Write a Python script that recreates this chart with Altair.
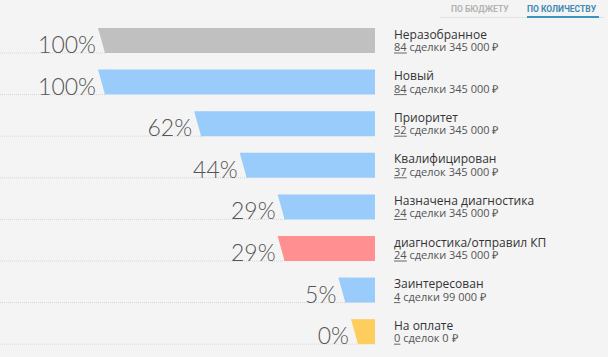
import altair as alt
import pandas as pd

# ---- data ----
stages = ["Неразобранное", "Новый", "Приоритет", "Квалифицирован",
          "Назначена диагностика", "диагностика/отправил КП", "Заинтересован", "На оплате"]
percents = [100, 100, 62, 44, 29, 29, 5, 0]
counts = [84, 84, 52, 37, 24, 24, 4, 0]
deal_words = ["сделки", "сделки", "сделки", "сделок", "сделки", "сделки", "сделки", "сделок"]
amounts = ["345 000 ₽", "345 000 ₽", "345 000 ₽", "345 000 ₽", "345 000 ₽", "345 000 ₽", "99 000 ₽", "0 ₽"]
bar_colors = ["#c0c0c0", "#99cbfb", "#99cbfb", "#99cbfb", "#99cbfb", "#ff8f91", "#99cbfb", "#fdcd5e"]
tab_labels = ["ПО БЮДЖЕТУ", "ПО КОЛИЧЕСТВУ"]

df = pd.DataFrame({
    "stage": stages, "pct": percents, "count": counts, "word": deal_words,
    "amount": amounts, "color": bar_colors,
})

W, H = 608, 357
BG = "#f4f4f4"

xs = alt.Scale(domain=[0, W], nice=False, zero=False)
ys = alt.Scale(domain=[0, H], nice=False, zero=False, reverse=True)

base = alt.Chart(df).transform_window(
    idx="row_number()"
).transform_calculate(
    right="375",
    xb="375 - (17 + 2.53 * datum.pct)",
    xt="375 - (17 + 2.53 * datum.pct) - 7",
    ytop="28 + 41.6 * (datum.idx - 1)",
    ybot="28 + 41.6 * (datum.idx - 1) + 25",
    label="datum.pct + '%'",
    sub="datum.count + ' ' + datum.word + ' ' + datum.amount",
    ulen="length(toString(datum.count)) * 6.4",
)

rects = base.mark_bar().encode(
    x=alt.X("xb:Q", scale=xs, axis=None),
    x2="right:Q",
    y=alt.Y("ytop:Q", scale=ys, axis=None),
    y2="ybot:Q",
    color=alt.Color("color:N", scale=None),
)

tris = base.transform_fold(
    ["ytop", "ybot"], as_=["edge", "yv"]
).transform_calculate(
    xl="datum.edge == 'ytop' ? datum.xt : datum.xb",
    xr="datum.xb + 1"
).mark_area(orient="horizontal").encode(
    y=alt.Y("yv:Q", scale=ys, axis=None),
    x=alt.X("xl:Q", scale=xs, axis=None),
    x2="xr:Q",
    detail="stage:N",
    color=alt.Color("color:N", scale=None),
)

dots = base.transform_calculate(zero="0").mark_rule(
    color="#d6d6d6", strokeDash=[1, 1], strokeWidth=1).encode(
    x=alt.X("zero:Q", scale=xs, axis=None),
    x2="xb:Q",
    y=alt.Y("ybot:Q", scale=ys, axis=None),
)

pct_text = base.transform_calculate(
    xlab="datum.xt - 2"
).mark_text(align="right", baseline="alphabetic", fontSize=23, font="Lato",
            fontWeight=300, color="#555555").encode(
    x=alt.X("xlab:Q", scale=xs, axis=None),
    y=alt.Y("ybot:Q", scale=ys, axis=None),
    text="label:N",
)

name_text = base.transform_calculate(
    xn="394", yn="datum.ytop + 10.5"
).mark_text(align="left", baseline="alphabetic", fontSize=12, font="Open Sans",
            color="#333333").encode(
    x=alt.X("xn:Q", scale=xs, axis=None),
    y=alt.Y("yn:Q", scale=ys, axis=None),
    text="stage:N",
)

sub_text = base.transform_calculate(
    xn="394", yn="datum.ybot - 2"
).mark_text(align="left", baseline="alphabetic", fontSize=11, font="Open Sans",
            color="#555555").encode(
    x=alt.X("xn:Q", scale=xs, axis=None),
    y=alt.Y("yn:Q", scale=ys, axis=None),
    text="sub:N",
)

underline = base.transform_calculate(
    xn="394", xe="394 + datum.ulen", yn="datum.ybot"
).mark_rule(color="#666666", strokeWidth=1).encode(
    x=alt.X("xn:Q", scale=xs, axis=None),
    x2="xe:Q",
    y=alt.Y("yn:Q", scale=ys, axis=None),
)

tab_df = pd.DataFrame({"tab": tab_labels})
tab1 = alt.Chart(tab_df).transform_filter(alt.datum.tab == tab_labels[0]).mark_text(
    align="left", baseline="alphabetic", fontSize=8.5, font="Roboto", fontWeight="bold",
    color="#b3b3b3").encode(x=alt.value(451), y=alt.value(12), text="tab:N")
tab2 = alt.Chart(tab_df).transform_filter(alt.datum.tab == tab_labels[1]).mark_text(
    align="left", baseline="alphabetic", fontSize=8.5, font="Roboto", fontWeight="bold",
    color="#3d8ab3").encode(x=alt.value(527), y=alt.value(12), text="tab:N")
tab_line = alt.Chart(tab_df).mark_rule(color="#e2e2e2", strokeWidth=1).encode(
    x=alt.value(440), x2=alt.value(604), y=alt.value(17.5))
tab_active = alt.Chart(tab_df).mark_rule(color="#3d93c0", strokeWidth=2).encode(
    x=alt.value(527), x2=alt.value(599), y=alt.value(17))

chart = alt.layer(
    dots, rects, tris, pct_text, name_text, sub_text, underline,
    tab_line, tab_active, tab1, tab2,
).properties(
    width=W, height=H, padding=0, background=BG,
    autosize=alt.AutoSizeParams(type="none"),
).configure_view(stroke=None)

chart.save("out.html", embed_options={"renderer": "svg", "actions": False})
